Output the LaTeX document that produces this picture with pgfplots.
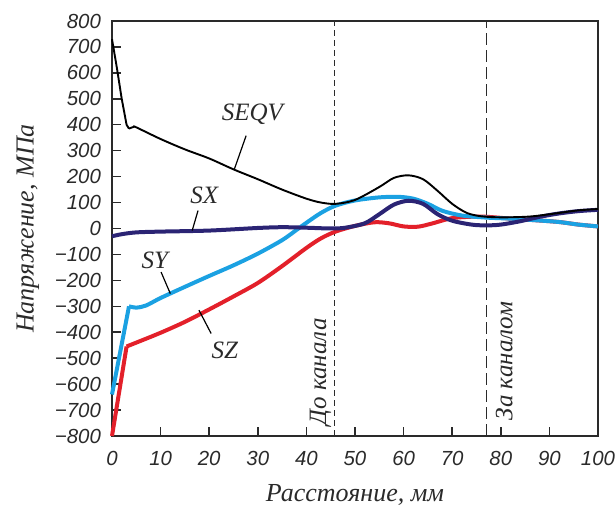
\documentclass[border=0pt]{standalone}
\usepackage{pgfplots}
\pgfplotsset{compat=1.18}
\usepackage{fontspec}
\setmainfont{Liberation Serif}
\newfontfamily\tickfont{Liberation Sans}
\definecolor{cSX}{HTML}{2B2474}
\definecolor{cSY}{HTML}{1BA1E2}
\definecolor{cSZ}{HTML}{E3202A}
\definecolor{axgray}{HTML}{2A2A2A}
\begin{document}
\begin{tikzpicture}
\useasboundingbox (-56pt,-35pt) rectangle (252pt,218pt);
\begin{axis}[
  at={(0,0)}, anchor=south west,
  scale only axis, width=243pt, height=207.5pt,
  xmin=0, xmax=100, ymin=-800, ymax=800,
  axis line style={axgray, line width=0.75pt},
  tick style={axgray, line width=0.75pt},
  major tick length=4.5pt,
  tick align=inside, xtick pos=bottom, ytick pos=left,
  xtick={0,10,...,100},
  xticklabels={0,10,20,30,40,50,60,70,80,90,100},
  ytick={-800,-700,...,800},
  yticklabels={−800,−700,−600,−500,−400,−300,−200,−100,0,100,200,300,400,500,600,700,800},
  ticklabel style={font=\tickfont\itshape\fontsize{10.2}{12}\selectfont, text=axgray},
  xticklabel style={yshift=-4pt},
  yticklabel style={xshift=-2pt},
  xlabel={Расстояние, мм},
  ylabel={Напряжение, МПа},
  label style={font=\itshape\fontsize{13}{15}\selectfont, text=axgray},
  xlabel style={at={(axis description cs:0.5,-0.142)}, anchor=center},
  ylabel style={at={(axis description cs:-0.173,0.5)}, anchor=center, rotate=0},
  clip=false,
]
% vertical dashed markers
\addplot[axgray, line width=0.75pt, dash pattern=on 3pt off 2pt] coordinates {(45.8,-800) (45.8,800)};
\addplot[axgray, line width=0.75pt, dash pattern=on 6pt off 2.5pt] coordinates {(77.1,-800) (77.1,800)};
% SZ
\addplot[cSZ, line width=2pt] coordinates {(0,-800) (3,-455)};
\addplot[cSZ, line width=2pt, smooth] coordinates {
(3,-455) (5,-440) (10,-402) (15,-360) (20,-312) (25,-262) (30,-210) (35,-145) (40,-75) (43,-38) (46,-12) (50,10) (54,24) (57,20) (60,8) (63,7) (66,20) (70,40) (75,46) (78,44) (82,38) (87,32) (92,25) (96,15) (100,8)};
% SY
\addplot[cSY, line width=2pt] coordinates {(0,-640) (3.5,-300)};
\addplot[cSY, line width=2pt, smooth] coordinates {
(3.5,-300) (5,-305) (7,-297) (10,-268) (15,-225) (20,-183) (25,-142) (30,-97) (35,-45) (38,-5) (40,22) (43,60) (46,88) (50,108) (55,120) (59,122) (62,115) (65,95) (68,68) (72,50) (77,42) (82,38) (87,32) (92,25) (96,15) (100,8)};
% SX
\addplot[cSX, line width=2pt, smooth] coordinates {
(0,-30) (2,-22) (5,-15) (10,-12) (20,-8) (30,2) (35,5) (40,3) (45,0) (48,3) (52,20) (55,55) (58,92) (61,107) (64,95) (67,55) (70,30) (74,15) (77,12) (80,15) (84,28) (88,45) (92,58) (96,67) (100,72)};
% SEQV
\addplot[black, line width=0.95pt] coordinates {(0,730) (1,620) (2,500) (3,400) (3.5,385)};
\addplot[black, line width=0.95pt, smooth] coordinates {
(3.5,385) (4.5,392) (5,390) (10,345) (15,305) (20,270) (25,228) (30,190) (35,150) (40,115) (43,100) (46,95) (50,110) (55,160) (58,195) (61,205) (64,190) (67,145) (70,95) (73,60) (76,47) (80,43) (85,45) (88,50) (92,60) (96,70) (100,75)};
% labels
\node[font=\itshape\fontsize{12.5}{14}\selectfont, text=axgray] at (axis cs:28.9,442) {SEQV};
\draw[black, line width=0.6pt] (axis cs:27.6,358) -- (axis cs:25.2,230);
\node[font=\itshape\fontsize{12.5}{14}\selectfont, text=axgray] at (axis cs:19,127) {SX};
\draw[black, line width=0.6pt] (axis cs:17.7,69) -- (axis cs:16.5,-8);
\node[font=\itshape\fontsize{12.5}{14}\selectfont, text=axgray] at (axis cs:8.8,-123) {SY};
\draw[black, line width=0.6pt] (axis cs:10.1,-168) -- (axis cs:12,-251);
\node[font=\itshape\fontsize{12.5}{14}\selectfont, text=axgray] at (axis cs:23.2,-469) {SZ};
\draw[black, line width=0.6pt] (axis cs:20.4,-405) -- (axis cs:17.9,-315);
\node[font=\itshape\fontsize{12.5}{14}\selectfont, text=axgray, rotate=90, anchor=south west, inner sep=1pt] at (axis cs:45.6,-768) {До канала};
\node[font=\itshape\fontsize{12.5}{14}\selectfont, text=axgray, rotate=90, anchor=north west, inner sep=1pt] at (axis cs:78.5,-748) {За каналом};
\end{axis}
\end{tikzpicture}
\end{document}
